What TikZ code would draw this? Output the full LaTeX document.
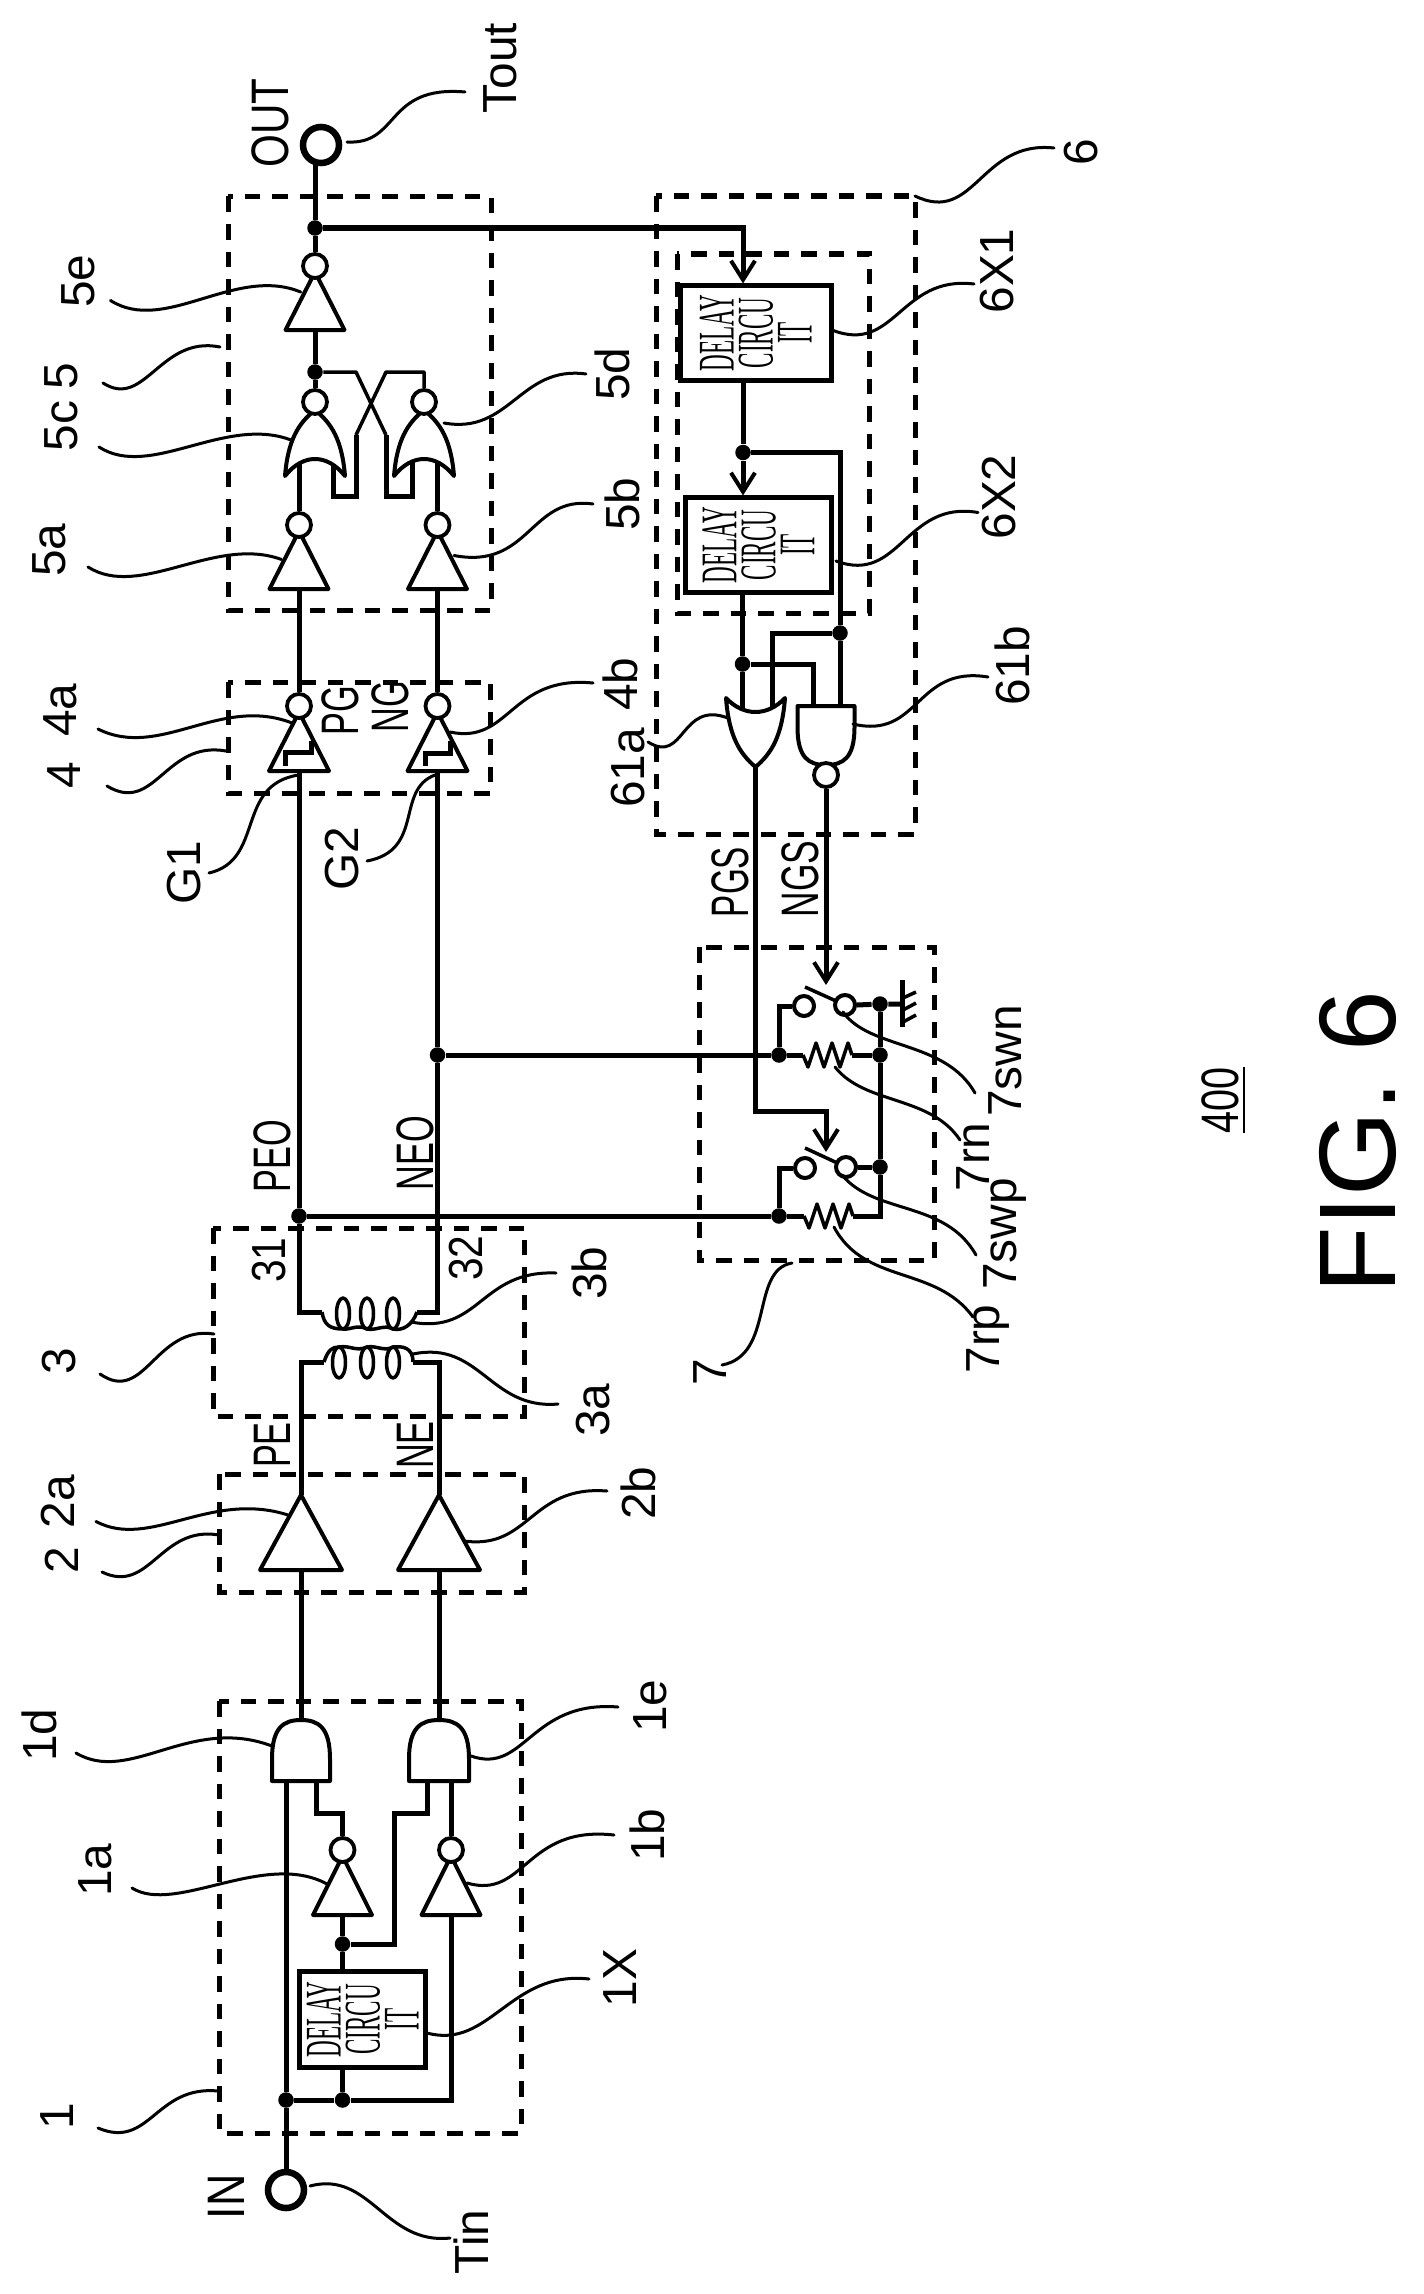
\documentclass[tikz,border=0pt]{standalone}
\usepackage{fontspec}
\usepackage{graphicx}
\setmainfont{Liberation Sans}
\newfontfamily\dlyfont{Liberation Serif}
\usetikzlibrary{arrows.meta}
\pgfdeclarelayer{back}
\pgfsetlayers{back,main}
\tikzset{
  wire/.style={line width=.05cm,line join=miter},
  gate/.style={draw,fill=white,line width=.04cm,line join=round},
  thinl/.style={line width=.035cm,line join=round},
  leader/.style={line width=.03cm,line cap=round},
  dashbox/.style={line width=.05cm,dash pattern=on .155cm off .12cm},
  bubble/.style={circle,draw,fill=white,line width=.038cm,minimum size=.24cm,inner sep=0pt},
  contact/.style={circle,draw,fill=white,line width=.04cm,minimum size=.2cm,inner sep=0pt},
  ring/.style={circle,draw,fill=white,line width=.065cm,minimum size=.36cm,inner sep=0pt},
  jdot/.style={circle,fill=black,minimum size=.155cm,inner sep=0pt},
  delaybox/.style={draw,line width=.05cm,rotate=90,inner sep=0pt,align=center},
  lbl/.style={rotate=90,inner sep=0pt,font=\fontsize{13.6}{16}\selectfont},
  sig/.style={rotate=90,inner sep=0pt,font=\fontsize{15}{18}\selectfont},
  arr/.style={-{Straight Barb[length=.19cm,width=.24cm,line width=.04cm]}}
}
\newcommand{\delaytext}{\scalebox{.45}[1]{\dlyfont\fontsize{14.6}{11.1}\selectfont\vbox{\baselineskip=11.1pt\lineskiplimit=-20pt\halign{\hfil##\hfil\cr DELAY\cr CIRCU\cr IT\cr}}}}
\newcommand{\squeezed}[2]{\scalebox{#1}[1]{#2}}
% name, cx, bubble y, base y, half width
\newcommand{\invgate}[5]{%
  \draw[gate] ({#2-#5},#4) -- ({#2+#5},#4) -- (#2,{#3+6}) -- cycle;
  \node[bubble] (#1) at (#2,#3) {};
  \coordinate (#1-in) at (#2,#4);}
% name, cx, apex y, base y, half width
\newcommand{\bufgate}[5]{%
  \draw[gate] ({#2-#5},#4) -- ({#2+#5},#4) -- (#2,#3) -- cycle;
  \coordinate (#1-in) at (#2,#4);
  \coordinate (#1-out) at (#2,#3);}
% name, cx, base y, apex y, half width, left input x, right input x
\newcommand{\andgate}[7]{%
  \draw[gate] ({#2-#5},#3) -- ({#2-#5},{#3+.36*(#4-#3)})
    .. controls ({#2-#5},{#4+.12*(#3-#4)}) and ({#2-.6*#5},#4) .. (#2,#4)
    .. controls ({#2+.6*#5},#4) and ({#2+#5},{#4+.12*(#3-#4)}) .. ({#2+#5},{#3+.36*(#4-#3)})
    -- ({#2+#5},#3) -- cycle;
  \coordinate (#1-l) at (#6,#3);
  \coordinate (#1-r) at (#7,#3);
  \coordinate (#1-o) at (#2,#4);}
% name, cx, tip y, arch y, apex y, half width, left input x, right input x
\newcommand{\orgate}[8]{%
  \draw[gate] ({#2-#6},#3)
    .. controls ({#2-.9*#6},{#3+.55*(#5-#3)}) and ({#2-.55*#6},{#5+.2*(#3-#5)}) .. (#2,#5)
    .. controls ({#2+.55*#6},{#5+.2*(#3-#5)}) and ({#2+.9*#6},{#3+.55*(#5-#3)}) .. ({#2+#6},#3)
    .. controls ({#2+.4*#6},{(8*#4-2*#3)/6}) and ({#2-.4*#6},{(8*#4-2*#3)/6}) .. cycle;
  \coordinate (#1-l) at (#7,#4);
  \coordinate (#1-r) at (#8,#4);
  \coordinate (#1-o) at (#2,#5);}
% name, left x, right x, y
\newcommand{\resistor}[4]{%
  \coordinate (#1-l) at (#2,#4);
  \coordinate (#1-r) at (#3,#4);
  \draw[thinl] (#1-l) -- ({#2+5},{#4+12}) -- ({#2+13},{#4-12}) -- ({#2+21},{#4+12})
    -- ({#2+29},{#4-12}) -- ({#2+37},{#4+12}) -- ({#2+45},{#4-12}) -- (#1-r);}
\newcommand{\leader}[5]{%
  \coordinate (#1a) at (#2);
  \coordinate (#1b) at (#5);
  \draw[leader] (#1a) .. controls (#3) and (#4) .. (#1b);}
\begin{document}
\begin{tikzpicture}[x=.01cm,y=-.01cm]
\useasboundingbox (0,0) rectangle (1423,2294);
% ---------- gates ----------
\andgate{a1}{301}{1781}{1720}{29}{286}{316}
\andgate{a2}{439}{1781}{1720}{30}{427}{451}
\invgate{i1a}{342.5}{1850}{1915}{29.5}
\invgate{i1b}{451}{1850}{1915}{29.5}
\bufgate{b2a}{301}{1495}{1570}{41}
\bufgate{b2b}{439}{1495}{1570}{41}
\invgate{i4a}{299}{706}{771}{30}
\invgate{i4b}{437.5}{706}{771}{30}
\invgate{i5a}{299}{525}{589}{29.5}
\invgate{i5b}{437.5}{525}{589}{29.5}
\orgate{o5c}{315}{476}{459}{410}{30}{299}{333}
\orgate{o5d}{424}{476}{459}{410}{30}{412}{437.5}
\node[bubble] (n5c) at (315,402) {};
\node[bubble] (n5d) at (424,402) {};
\invgate{i5e}{315}{266}{330}{29.5}
\orgate{o61}{755.5}{698}{712}{767}{29.5}{742.5}{772}
\andgate{a61}{826}{706}{765}{28.5}{813}{840}
\node[bubble] (n61) at (826,775) {};
% hysteresis steps
\draw[wire] (311,741) |- (285,752) -- (285,766);
\draw[wire] (450,741) |- (425,753) -- (425,766);
% ---------- terminals, delay circuits, junctions ----------
\node[ring] (tin) at (286,2190) {};
\node[ring] (tout) at (321,145) {};
\node[delaybox,minimum width=.95cm,minimum height=1.255cm] (dx) at (362.75,2019.5) {\delaytext};
\node[delaybox,minimum width=.94cm,minimum height=1.505cm] (d61) at (755.75,333) {\delaytext};
\node[delaybox,minimum width=.94cm,minimum height=1.45cm] (d62) at (758.5,545) {\delaytext};
\node[jdot] (j1) at (286,2100) {};
\node[jdot] (j2) at (342.5,2100) {};
\node[jdot] (j3) at (342.5,1944) {};
\node[jdot] (j31) at (299,1216) {};
\node[jdot] (j32) at (437.5,1055) {};
\node[jdot] (j51) at (315,228) {};
\node[jdot] (j52) at (315,372) {};
\node[jdot] (j61) at (743,452.5) {};
\node[jdot] (j62) at (840,633) {};
\node[jdot] (j63) at (742.5,664) {};
\node[jdot] (j73) at (880,1004) {};
\node[jdot] (j74) at (779,1055) {};
\node[jdot] (j75) at (880,1055) {};
\node[jdot] (j76) at (880,1167) {};
\node[jdot] (j77) at (779,1216) {};
\node[contact] (c1) at (804,1006) {};
\node[contact] (c2) at (845,1005) {};
\node[contact] (c3) at (805,1168) {};
\node[contact] (c4) at (846,1167) {};
\resistor{r7n}{803}{852}{1055}
\resistor{r7p}{804}{853}{1216}
% ---------- transformer coils ----------
\foreach \cx in {339,367,393} \draw[thinl] (\cx,1362.5) ellipse [x radius=6.5,y radius=15.5];
\coordinate (c3as) at (324,1362);
\coordinate (c3ae) at (413,1362);
\draw[thinl] (c3as) .. controls (328,1350) and (332,1347) .. (339,1347)
  .. controls (350,1345) and (356,1352) .. (367,1347)
  .. controls (376,1345) and (384,1352) .. (393,1347)
  .. controls (402,1346) and (413,1347) .. (c3ae);
\foreach \cx in {343,367,393} \draw[thinl] (\cx,1313.5) ellipse [x radius=6.5,y radius=15.5];
\coordinate (c3bs) at (322,1312);
\coordinate (c3be) at (417,1312);
\draw[thinl] (c3bs) .. controls (324,1325) and (330,1329) .. (343,1329)
  .. controls (350,1330) and (358,1324) .. (367,1329)
  .. controls (376,1331) and (384,1324) .. (393,1329)
  .. controls (402,1331) and (412,1326) .. (c3be);
% ---------- ground ----------
\coordinate (g0) at (902,1004);
\coordinate (g1) at (902,980);
\coordinate (g2) at (902,1027);
\draw[wire] (g1) -- (g2);
\draw[thinl] (903,998) -- (916,992) (903,1010) -- (916,1003) (903,1022) -- (916,1015);
% ---------- back layer: page, dashed boxes, wires ----------
\begin{pgfonlayer}{back}
\fill[white] (0,0) rectangle (1423,2294);
\draw[dashbox] (219,1701) rectangle (521,2133);
\draw[dashbox] (219,1474) rectangle (524.5,1592);
\draw[dashbox] (213,1228) rectangle (524.5,1416);
\draw[dashbox] (228,682) rectangle (490.5,793.5);
\draw[dashbox] (228,196.5) rectangle (491,610);
\draw[dashbox] (656,196) rectangle (915,834);
\draw[dashbox] (677,254) rectangle (869.5,613);
\draw[dashbox] (699,947) rectangle (934,1260);
% block 1
\coordinate (k1) at (0,1813);
\coordinate (k2) at (394,1813);
\draw[wire] (tin.center) -- (j1) -- (a1-l);
\draw[wire] (j1) -- (j2) -| (i1b-in);
\draw[wire] (j2) -- (j2 |- dx.west);
\draw[wire] (j3 |- dx.east) -- (j3) -- (i1a-in);
\draw[wire] (i1a.north) -- (i1a |- k1) -| (a1-r);
\draw[wire] (j3) -| (k2) -| (a2-l);
\draw[wire] (i1b.north) -- (a2-r);
\draw[wire] (a1-o) -- (b2a-in);
\draw[wire] (a2-o) -- (b2b-in);
% transformer
\coordinate (c3al) at (301,1362);
\coordinate (c3ar) at (439,1362);
\coordinate (c3bl) at (299,1312);
\coordinate (c3br) at (437.5,1312);
\draw[wire] (b2a-out) -- (c3al) -- (c3as);
\draw[wire] (b2b-out) -- (c3ar) -- (c3ae);
\draw[wire] (c3bs) -- (c3bl) -- (j31) -- (i4a-in);
\draw[wire] (c3be) -- (c3br) -- (j32) -- (i4b-in);
\draw[wire] (i4a.north) -- (i5a-in);
\draw[wire] (i4b.north) -- (i5b-in);
% block 5
\coordinate (k3) at (356,372);
\coordinate (k4) at (386,435);
\coordinate (k5) at (386,496);
\coordinate (k6) at (386,372);
\coordinate (k7) at (356,435);
\coordinate (k8) at (356,496);
\draw[wire] (i5a.north) -- (o5c-l);
\draw[wire] (i5b.north) -- (o5d-r);
\draw[wire] (n5c.north) -- (j52) -- (i5e-in);
\draw[thinl] (j52) -- (k3) -- (k4);
\draw[wire] (k4) -- (k5) -| (o5d-l);
\draw[thinl] (n5d.north) |- (k6) -- (k7);
\draw[wire] (k7) -- (k8) -| (o5c-r);
\draw[wire] (i5e.north) -- (j51) -- (j51 |- tout.center);
% block 6
\coordinate (k9) at (743,228);
\draw[wire,arr] (j51) -- (k9) -- (k9 |- d61.east);
\draw[wire] (j61 |- d61.west) -- (j61);
\draw[wire,arr] (j61) -- (j61 |- d62.east);
\draw[wire] (j61) -| (j62);
\draw[wire] (j62) -- (a61-r);
\draw[wire] (j62) -| (o61-r);
\draw[wire] (j63 |- d62.west) -- (j63) -- (o61-l);
\draw[wire] (j63) -| (a61-l);
% block 7
\coordinate (k10) at (826,1111);
\coordinate (k11) at (826,1152);
\coordinate (k12) at (826,985);
\coordinate (k13) at (880,1216);
\coordinate (swn) at (805,987);
\coordinate (swp) at (805,1148);
\draw[wire,arr] (o61-o) |- (k10) -- (k11);
\draw[wire,arr] (n61.south) -- (k12);
\draw[wire] (j32) -- (j74) -- (r7n-l);
\draw[wire] (r7n-r) -- (j75);
\draw[wire] (j31) -- (j77) -- (r7p-l);
\draw[wire] (r7p-r) -- (k13) -- (j76) -- (j75) -- (j73);
\draw[wire] (c1.west) -| (j74);
\draw[wire] (c3.west) -| (j77);
\draw[wire] (c2.east) -- (j73) -- (g0);
\draw[wire] (c4.east) -- (j76);
\draw[thinl] (swn) -- (c2.center);
\draw[thinl] (swp) -- (c4.center);
\end{pgfonlayer}
% ---------- labels ----------
\node[lbl] (l1d) at (39,1735) {1d};
\node[lbl] (l1a) at (95,1870) {1a};
\node[lbl] (l1) at (57,2116) {1};
\node[lbl] (l1e) at (650,1706) {1e};
\node[lbl] (l1b) at (647,1835) {1b};
\node[lbl] (l1x) at (620,1978) {1X};
\node[sig] (lin) at (226,2197) {\squeezed{.85}{IN}};
\node[lbl] (ltin) at (471,2242) {Tin};
\node[lbl] (l31) at (269,1260) {\squeezed{.85}{31}};
\node[lbl] (l32) at (466.5,1258) {\squeezed{.85}{32}};
\node[lbl] (l3) at (59,1361) {3};
\node[lbl] (l3b) at (589,1273) {3b};
\node[lbl] (l3a) at (593,1410) {3a};
\node[sig] (lpe) at (272,1445) {\squeezed{.65}{PE}};
\node[sig] (lne) at (415,1445) {\squeezed{.65}{NE}};
\node[lbl] (l2a) at (58,1501.5) {2a};
\node[lbl] (l2) at (61.6,1560) {2};
\node[lbl] (l2b) at (638,1493) {2b};
\node[sig] (lpeo) at (272,1156) {\squeezed{.65}{PEO}};
\node[sig] (lneo) at (415,1153) {\squeezed{.65}{NEO}};
\node[sig] (lpg) at (340,711) {\squeezed{.65}{PG}};
\node[sig] (lng) at (390,707) {\squeezed{.65}{NG}};
\node[lbl] (l4a) at (60,710) {4a};
\node[lbl] (l4) at (64,775) {4};
\node[lbl] (lg1) at (184,873) {G1};
\node[lbl] (lg2) at (342,859) {G2};
\node[lbl] (l4b) at (620,684) {4b};
\node[sig] (lout) at (270,123) {\squeezed{.8}{OUT}};
\node[lbl] (ltout) at (500,68) {Tout};
\node[lbl] (l5e) at (78,281) {5e};
\node[lbl] (l5) at (61,376) {5};
\node[lbl] (l5c) at (61,426) {5c};
\node[lbl] (l5a) at (49,550) {5a};
\node[lbl] (l5d) at (612,374) {5d};
\node[lbl] (l5b) at (622,504) {5b};
\node[lbl] (l6) at (1081,152) {6};
\node[lbl] (l6x1) at (997,271) {6X1};
\node[lbl] (l6x2) at (999,497) {6X2};
\node[lbl] (l61a) at (628,768) {61a};
\node[lbl] (l61b) at (1012,666) {61b};
\node[sig] (lpgs) at (730,882) {\squeezed{.63}{PGS}};
\node[sig] (lngs) at (800,879) {\squeezed{.67}{NGS}};
\node[lbl] (l7swn) at (1005,1061) {7swn};
\node[lbl] (l7rn) at (973,1157) {7rn};
\node[lbl] (l7swp) at (1005,1234) {7swp};
\node[lbl] (l7rp) at (988,1339) {7rp};
\node[lbl] (l7) at (710,1372) {7};
\node[sig] (l400) at (1224,1100) {\squeezed{.75}{\underline{400}}};
\node[rotate=90,inner sep=0pt,font=\fontsize{31}{36}\selectfont] (lfig) at (1358,1142) {FIG. 6};
% ---------- leader lines ----------
\leader{L1d}{76,1753}{130,1785}{190,1715}{272,1746}
\leader{L1a}{132,1888}{175,1915}{265,1850}{327,1884}
\leader{L1}{98,2128}{150,2150}{155,2085}{218,2091}
\leader{L1e}{471,1756}{525,1775}{530,1700}{618,1707}
\leader{L1b}{467,1883}{525,1900}{525,1825}{614,1835}
\leader{L1x}{427,2033}{490,2050}{510,1970}{589,1979}
\leader{Ltin}{310,2186}{370,2170}{385,2245}{450,2238}
\leader{L3}{100,1374}{145,1405}{155,1325}{214,1334}
\leader{L3b}{411,1322}{480,1335}{480,1270}{556,1273}
\leader{L3a}{413,1354}{480,1340}{490,1410}{558,1404}
\leader{L2a}{96,1521.5}{150,1550}{210,1490}{288,1515}
\leader{L2}{102,1572}{150,1595}{160,1525}{219,1535}
\leader{L2b}{464,1541}{530,1550}{530,1485}{607,1491}
\leader{L4a}{98,729}{160,760}{220,695}{292,723}
\leader{L4}{107,786}{155,815}{165,740}{226,751}
\leader{Lg1}{209,873}{265,860}{235,785}{298.5,775}
\leader{Lg2}{367,861}{425,850}{395,790}{435,775}
\leader{L4b}{450,732}{510,745}{510,675}{593,683}
\leader{Ltout}{347,142}{400,145}{385,85}{465,92}
\leader{L5e}{110.5,300.5}{165,335}{235,265}{300.7,292}
\leader{L5}{103,383}{145,410}{160,335}{220,347}
\leader{L5c}{99,447}{150,480}{225,415}{291,440}
\leader{L5a}{88,567}{140,600}{215,535}{281.5,559.5}
\leader{L5d}{444,423}{510,435}{520,365}{586,374}
\leader{L5b}{454,555.5}{530,570}{530,495}{593,504}
\leader{L6}{915,196}{975,225}{980,140}{1054,148}
\leader{L6x1}{832,330}{895,355}{900,275}{974,284}
\leader{L6x2}{836,561}{900,585}{905,500}{978,512.5}
\leader{L61a}{648,742}{685,765}{680,700}{728,718}
\leader{L61b}{853,724}{920,740}{915,665}{988,677}
\leader{L7swn}{843,1012}{870,1050}{945,1040}{975,1093}
\leader{L7rn}{835,1067}{865,1105}{930,1095}{960,1140}
\leader{L7swp}{842,1175}{875,1215}{945,1200}{976,1255}
\leader{L7rp}{834,1227}{865,1285}{935,1265}{973,1317}
\leader{L7}{792,1263}{750,1270}{775,1355}{722,1365}
\end{tikzpicture}
\end{document}
